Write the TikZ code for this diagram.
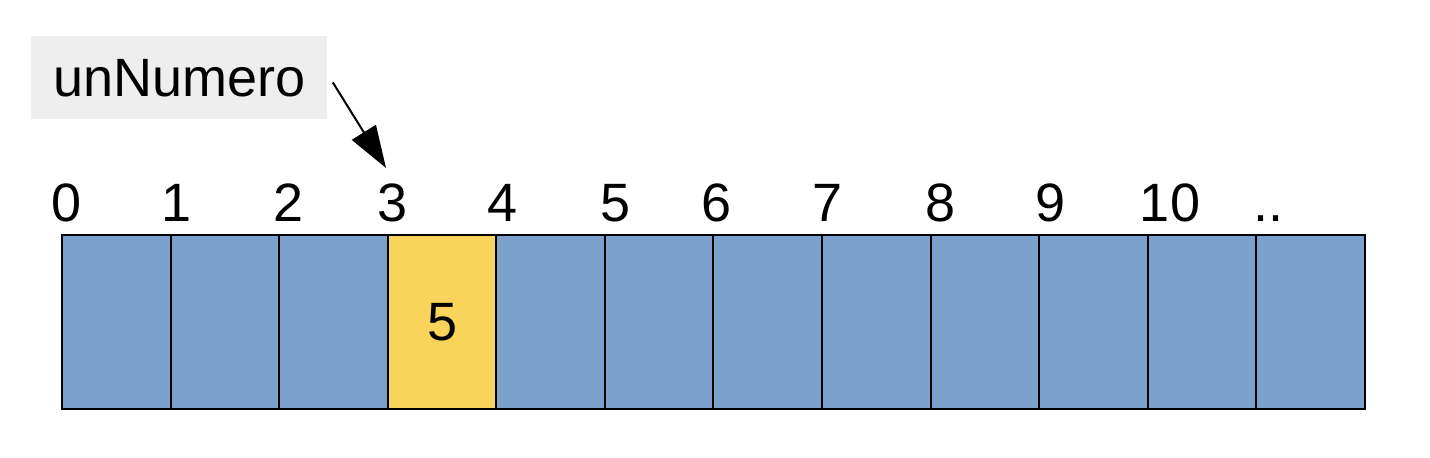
\documentclass[tikz,border=0pt]{standalone}
\usepackage{fontspec}
\setmainfont{Liberation Sans}
\usetikzlibrary{arrows.meta}
\definecolor{cellblue}{HTML}{7BA0CC}
\definecolor{cellyellow}{HTML}{F9D45A}
\definecolor{labelgray}{HTML}{EEEEEE}

\begin{document}
\begin{tikzpicture}[x=0.5pt,y=0.5pt]

\tikzstyle{every node}=[font=\fontsize{27}{32}\selectfont]
\tikzstyle{cell}=[draw, line width=1pt, fill=cellblue, minimum width=54.29pt, minimum height=87pt, inner sep=0pt, anchor=south west]

\useasboundingbox (0,0) rectangle (1430,458);

% cells
\foreach \i in {0,...,11}
  \node [cell] (c\i) at (61+108.58*\i,48) {};

% value
\node [cell, fill=cellyellow] (val) at (61+108.58*3,48) {5};

% indexes
\foreach \i/\t/\x in {0/0/67,1/1/177,2/2/289,3/3/393,4/4/503,5/5/616,6/6/717,7/7/828,8/8/941,9/9/1051,10/10/1170,11/../1268}
  \node [anchor=base, inner sep=0pt] (i\i) at (\x,236) {\t};

% variable
\node [fill=labelgray, minimum width=148pt, minimum height=41.5pt, anchor=north west] (var) at (31,422) {unNumero};
\coordinate (tip) at (386,290);
\draw [-{Triangle[length=21pt,width=14pt]}, line width=1pt] ([xshift=2.5pt,yshift=-2.25pt]var.east) -- (tip);

\end{tikzpicture}
\end{document}
